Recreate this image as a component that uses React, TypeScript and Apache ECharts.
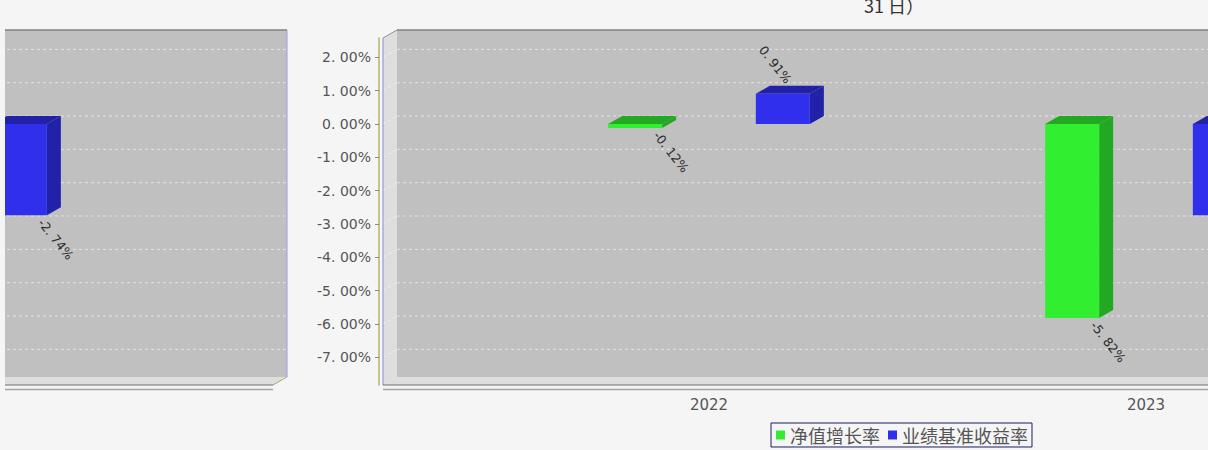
import React, { useEffect, useRef } from "react";
import * as echarts from "echarts";

const categories = ["2022", "2023"];
const navGrowth = [-0.12, -5.82];
const benchmark = [0.91, -2.74];
const yTicks = [2, 1, 0, -1, -2, -3, -4, -5, -6, -7];
const seriesNames = ["净值增长率", "业绩基准收益率"];
const titleTail = "31 日）";

const Y_MIN = -7.83;
const Y_MAX = 2.58;
const DX = 14;
const DY = 8;
const PLOT_LEFT_FROM_GRID = -107.5;
const PLOT_RIGHT_FROM_GRID = 982.5;
const BAR_OFFSET = 0.169;
const BAR_WIDTH = 0.1236;

const BG = "#f5f5f5";
const GREEN = { front: "#31ee31", dark: "#23a823" };
const BLUE = { front: "#3030ec", dark: "#2222a8" };

function fmt(v: number): string {
  return v.toFixed(2).replace(".", ". ") + "%";
}

function frameRender(params: any, api: any) {
  const cs = params.coordSys;
  const L = cs.x + PLOT_LEFT_FROM_GRID;
  const R = cs.x + PLOT_RIGHT_FROM_GRID;
  const T = cs.y;
  const B = cs.y + cs.height;
  const children: any[] = [];
  children.push({ type: "rect", shape: { x: L + DX, y: T - DY, width: R - L, height: B - T }, style: { fill: "#c0c0c0" } });
  children.push({ type: "polygon", shape: { points: [[L, T], [L + DX, T - DY], [L + DX, B - DY], [L, B]] }, style: { fill: "#dedede" } });
  children.push({ type: "polygon", shape: { points: [[L, B], [L + DX, B - DY], [R + DX, B - DY], [R, B]] }, style: { fill: "#dedede" } });
  yTicks.forEach((v) => {
    const y = api.coord([0, v])[1];
    children.push({ type: "line", shape: { x1: L + DX, y1: y - DY, x2: R + DX, y2: y - DY }, style: { stroke: "#e2e2e2", lineWidth: 1, lineDash: [3, 3] } });
    children.push({ type: "line", shape: { x1: L, y1: y, x2: L + DX, y2: y - DY }, style: { stroke: "#f0f0f0", lineWidth: 1, lineDash: [3, 3] } });
  });
  children.push({ type: "line", shape: { x1: L + DX, y1: T - DY, x2: R + DX, y2: T - DY }, style: { stroke: "#808080", lineWidth: 1.5 } });
  children.push({ type: "line", shape: { x1: R + DX, y1: T - DY, x2: R + DX, y2: B - DY }, style: { stroke: "#9a9aee", lineWidth: 1 } });
  children.push({ type: "line", shape: { x1: L, y1: T, x2: L + DX, y2: T - DY }, style: { stroke: "#909090", lineWidth: 1 } });
  children.push({ type: "line", shape: { x1: L, y1: T, x2: L, y2: B }, style: { stroke: "#8a8ae8", lineWidth: 1 } });
  children.push({ type: "line", shape: { x1: L, y1: B, x2: R, y2: B }, style: { stroke: "#6e6e6e", lineWidth: 1 } });
  children.push({ type: "line", shape: { x1: R, y1: B, x2: R + DX, y2: B - DY }, style: { stroke: "#a8a870", lineWidth: 1 } });
  children.push({ type: "line", shape: { x1: L, y1: B + 4.5, x2: R, y2: B + 4.5 }, style: { stroke: "#a4a4a4", lineWidth: 1.5 } });
  return { type: "group", children };
}

function makeBarRender(offset: number, colors: { front: string; dark: string }) {
  return (params: any, api: any) => {
    const idx = api.value(0);
    const val = api.value(1);
    const c0 = api.coord([idx, 0]);
    const c1 = api.coord([idx, val]);
    const band = api.size([1, 0])[0];
    const center = c0[0] + offset * band;
    const w = BAR_WIDTH * band;
    const left = center - w / 2;
    const right = center + w / 2;
    const top = Math.min(c0[1], c1[1]);
    const bot = Math.max(c0[1], c1[1]);
    const text = fmt(val);
    const W = api.getWidth();
    const reach = 32;
    const children: any[] = [
      { type: "polygon", shape: { points: [[left, top], [left + DX, top - DY], [right + DX, top - DY], [right, top]] }, style: { fill: colors.dark } },
      { type: "polygon", shape: { points: [[right, top], [right + DX, top - DY], [right + DX, bot - DY], [right, bot]] }, style: { fill: colors.dark } },
      { type: "rect", shape: { x: left, y: top, width: w, height: bot - top }, style: { fill: colors.front } },
    ];
    if (val < 0) {
      const ax = right - 6;
      if (ax < W && ax + reach > 0) {
        children.push({
          type: "text",
          x: ax,
          y: bot + 5,
          rotation: -0.9,
          z2: 10,
          style: { text, fill: "#2a2a2a", font: '12.5px "DejaVu Sans"', align: "left", verticalAlign: "middle" },
        });
      }
    } else {
      const ax = center + 6;
      if (ax > 0 && ax - reach < W) {
        children.push({
          type: "text",
          x: ax,
          y: top - DY - 4,
          rotation: -0.9,
          z2: 10,
          style: { text, fill: "#2a2a2a", font: '12.5px "DejaVu Sans"', align: "right", verticalAlign: "middle" },
        });
      }
    }
    return { type: "group", children };
  };
}

function buildSeries(gridIdx: number) {
  const axis = { xAxisIndex: gridIdx, yAxisIndex: gridIdx };
  return [
    { type: "custom", name: "frame" + gridIdx, ...axis, z: 1, silent: true, data: [[0, 0]], renderItem: frameRender },
    {
      type: "custom",
      name: seriesNames[0],
      ...axis,
      z: 3,
      itemStyle: { color: GREEN.front },
      data: navGrowth.map((v, i) => [i, v]),
      renderItem: makeBarRender(-BAR_OFFSET, GREEN),
    },
    {
      type: "custom",
      name: seriesNames[1],
      ...axis,
      z: 3,
      itemStyle: { color: BLUE.front },
      data: benchmark.map((v, i) => [i, v]),
      renderItem: makeBarRender(BAR_OFFSET, BLUE),
    },
  ];
}

export default function App() {
  const ref = useRef<HTMLDivElement>(null);
  useEffect(() => {
    if (!ref.current) return;
    const chart = echarts.init(ref.current, undefined, { renderer: "svg" });
    const option: any = {
      animation: false,
      backgroundColor: BG,
      grid: [
        { left: 490.5, top: 38, width: 874, height: 347, containLabel: false, outerBoundsMode: "none" },
        { left: -709.5, top: 38, width: 874, height: 347, containLabel: false, outerBoundsMode: "none" },
      ],
      xAxis: [
        {
          type: "category",
          gridIndex: 0,
          data: categories,
          position: "bottom",
          offset: 4,
          axisLine: { show: false },
          axisTick: { show: true, alignWithLabel: true, length: 3, lineStyle: { color: "#8888cc" } },
          axisLabel: { color: "#555", fontSize: 15, fontFamily: "DejaVu Sans", margin: 8 },
          splitLine: { show: false },
        },
        { type: "category", gridIndex: 1, data: categories, show: false },
      ],
      yAxis: [
        {
          type: "value",
          gridIndex: 0,
          min: Y_MIN,
          max: Y_MAX,
          position: "left",
          offset: 111.5,
          axisLine: { show: true, lineStyle: { color: "#b4b464", width: 1.5 } },
          axisTick: { show: true, length: 4, lineStyle: { color: "#888" }, customValues: yTicks },
          axisLabel: { color: "#555", fontSize: 14, fontFamily: "DejaVu Sans", margin: 8, customValues: yTicks, formatter: (v: number) => fmt(v) },
          splitLine: { show: false },
        },
        { type: "value", gridIndex: 1, min: Y_MIN, max: Y_MAX, show: false, splitLine: { show: false } },
      ],
      legend: {
        data: seriesNames,
        left: 771,
        top: 423,
        orient: "horizontal",
        icon: "rect",
        itemWidth: 9,
        itemHeight: 9,
        itemGap: 8,
        padding: [3, 4, 3, 5],
        borderColor: "#1c1c60",
        borderWidth: 1,
        backgroundColor: BG,
        textStyle: { color: "#555", fontSize: 18, fontFamily: "Noto Sans CJK SC" },
      },
      graphic: [
        { type: "rect", left: 0, top: 0, z: 100, shape: { width: 5, height: 450 }, style: { fill: BG } },
        { type: "text", x: 864, y: 5, z: 100, style: { text: titleTail, fill: "#333", font: '18px "Noto Sans CJK SC"', verticalAlign: "middle" } },
      ],
      series: [...buildSeries(0), ...buildSeries(1)],
    };
    chart.setOption(option);
    return () => chart.dispose();
  }, []);
  return <div ref={ref} style={{ position: "fixed", left: 0, top: 0, width: 1208, height: 450 }} />;
}
